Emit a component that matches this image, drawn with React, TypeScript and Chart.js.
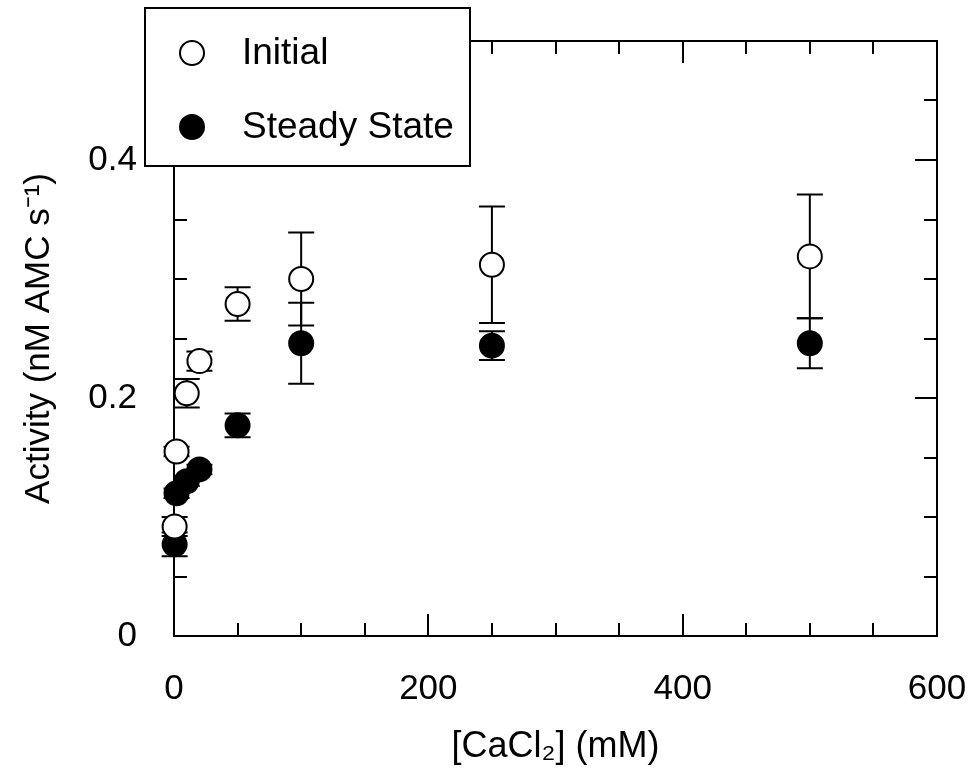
import React, { useEffect, useRef } from "react";
import { Chart, registerables } from "chart.js";

Chart.register(...registerables);

// ---- Data ----
const concentrations = [0.5, 2, 10, 20, 50, 100, 250, 500];
const initialActivity = [0.092, 0.155, 0.204, 0.231, 0.279, 0.3, 0.312, 0.319];
const initialError = [0.008, 0.004, 0.012, 0.008, 0.014, 0.039, 0.049, 0.052];
const steadyActivity = [0.077, 0.12, 0.13, 0.14, 0.177, 0.246, 0.244, 0.246];
const steadyError = [0.01, 0.004, 0.004, 0.004, 0.01, 0.034, 0.012, 0.021];
const seriesLabels = ["Initial", "Steady State"];

const xTickValues = [0, 200, 400, 600];
const xMajorInner = [200, 400];
const xMinorTicks = [50, 100, 150, 250, 300, 350, 450, 500, 550];
const yTickValues = [0, 0.2, 0.4];
const yMajorInner = [0.2, 0.4];
const yMinorTicks = [0.05, 0.1, 0.15, 0.25, 0.3, 0.35, 0.45];

const FONT = "'Liberation Sans', Arial, sans-serif";

const zeroPad = (s: any) => {
  s.paddingLeft = 0;
  s.paddingRight = 0;
  s.paddingTop = 0;
  s.paddingBottom = 0;
};

const frameAndTicks = {
  id: "frameAndTicks",
  beforeDatasetsDraw(chart: any) {
    const { ctx, chartArea, scales } = chart;
    const { left, right, top, bottom } = chartArea;
    const x = scales.x;
    const y = scales.y;
    ctx.save();
    ctx.strokeStyle = "#000";
    ctx.lineWidth = 2;
    ctx.strokeRect(left, top, right - left, bottom - top);
    ctx.beginPath();
    const xt = (v: number, len: number) => {
      const px = Math.round(x.getPixelForValue(v));
      ctx.moveTo(px, bottom);
      ctx.lineTo(px, bottom - len);
      ctx.moveTo(px, top);
      ctx.lineTo(px, top + len);
    };
    const yt = (v: number, len: number) => {
      const py = Math.round(y.getPixelForValue(v));
      ctx.moveTo(left, py);
      ctx.lineTo(left + len, py);
      ctx.moveTo(right, py);
      ctx.lineTo(right - len, py);
    };
    xMinorTicks.forEach((v) => xt(v, 13));
    xMajorInner.forEach((v) => xt(v, 22));
    yMinorTicks.forEach((v) => yt(v, 13));
    yMajorInner.forEach((v) => yt(v, 22));
    ctx.stroke();

    // error bars
    chart.data.datasets.forEach((ds: any) => {
      const errs: number[] = ds.errors || [];
      ds.data.forEach((pt: any, j: number) => {
        const e = errs[j] || 0;
        const px = x.getPixelForValue(pt.x);
        const y1 = y.getPixelForValue(pt.y + e);
        const y2 = y.getPixelForValue(pt.y - e);
        ctx.beginPath();
        ctx.moveTo(px, y1);
        ctx.lineTo(px, y2);
        ctx.moveTo(px - 13, y1);
        ctx.lineTo(px + 13, y1);
        ctx.moveTo(px - 13, y2);
        ctx.lineTo(px + 13, y2);
        ctx.stroke();
      });
    });
    ctx.restore();
  },
};

const boxLegend = {
  id: "boxLegend",
  afterDraw(chart: any) {
    const { ctx } = chart;
    ctx.save();
    ctx.fillStyle = "#fff";
    ctx.strokeStyle = "#000";
    ctx.lineWidth = 2;
    ctx.fillRect(145, 8, 325, 158);
    ctx.strokeRect(145, 8, 325, 158);
    chart.data.datasets.forEach((ds: any, i: number) => {
      const cy = 53 + i * 74;
      ctx.beginPath();
      ctx.arc(192, cy, 12, 0, Math.PI * 2);
      ctx.fillStyle = ds.backgroundColor;
      ctx.fill();
      ctx.lineWidth = 2;
      ctx.strokeStyle = ds.borderColor;
      ctx.stroke();
      ctx.fillStyle = "#000";
      ctx.font = `37px ${FONT}`;
      ctx.textAlign = "left";
      ctx.textBaseline = "middle";
      ctx.fillText(ds.label, 242, cy + 1);
    });
    ctx.restore();
  },
};

export default function App() {
  const canvasRef = useRef<HTMLCanvasElement | null>(null);

  useEffect(() => {
    if (!canvasRef.current) return;
    const mk = (vals: number[]) => concentrations.map((c, i) => ({ x: c, y: vals[i] }));
    const chart = new Chart(canvasRef.current, {
      type: "scatter",
      data: {
        datasets: [
          {
            label: seriesLabels[0],
            data: mk(initialActivity),
            errors: initialError,
            backgroundColor: "#fff",
            borderColor: "#000",
            borderWidth: 2,
            pointRadius: 12,
            pointHoverRadius: 12,
            clip: false,
          } as any,
          {
            label: seriesLabels[1],
            data: mk(steadyActivity),
            errors: steadyError,
            backgroundColor: "#000",
            borderColor: "#000",
            borderWidth: 2,
            pointRadius: 12,
            pointHoverRadius: 12,
            clip: false,
          } as any,
        ],
      },
      options: {
        responsive: false,
        animation: false,
        layout: { padding: { left: 0, right: 32, top: 41, bottom: 0 } },
        plugins: { legend: { display: false }, tooltip: { enabled: false } },
        scales: {
          x: {
            type: "linear",
            min: 0,
            max: 600,
            grid: { display: false, drawTicks: false },
            border: { display: false },
            afterBuildTicks: (s: any) => {
              s.ticks = xTickValues.map((v) => ({ value: v }));
            },
            afterFit: (s: any) => {
              s.height = 141;
              zeroPad(s);
            },
            ticks: {
              color: "#000",
              padding: 32,
              font: { family: FONT, size: 35 },
              callback: (v: any) => String(v),
            },
            title: {
              display: true,
              text: "[CaCl\u2082] (mM)",
              color: "#000",
              font: { family: FONT, size: 36 },
              padding: { top: 0, bottom: 8 },
            },
          },
          y: {
            type: "linear",
            min: 0,
            max: 0.5,
            grid: { display: false, drawTicks: false },
            border: { display: false },
            afterBuildTicks: (s: any) => {
              s.ticks = yTickValues.map((v) => ({ value: v }));
            },
            afterFit: (s: any) => {
              s.width = 174;
              zeroPad(s);
            },
            ticks: {
              color: "#000",
              padding: 37,
              font: { family: FONT, size: 35 },
              callback: (v: any) => String(v),
            },
            title: {
              display: true,
              text: "Activity (nM AMC s\u207B\u00B9)",
              color: "#000",
              font: { family: FONT, size: 35 },
              padding: { top: 18, bottom: 0 },
            },
          },
        },
      },
      plugins: [frameAndTicks, boxLegend],
    });
    return () => chart.destroy();
  }, []);

  return (
    <div style={{ position: "fixed", left: 0, top: 0, width: 969, height: 777, background: "#fff" }}>
      <canvas ref={canvasRef} width={969} height={777} style={{ display: "block" }} />
    </div>
  );
}
